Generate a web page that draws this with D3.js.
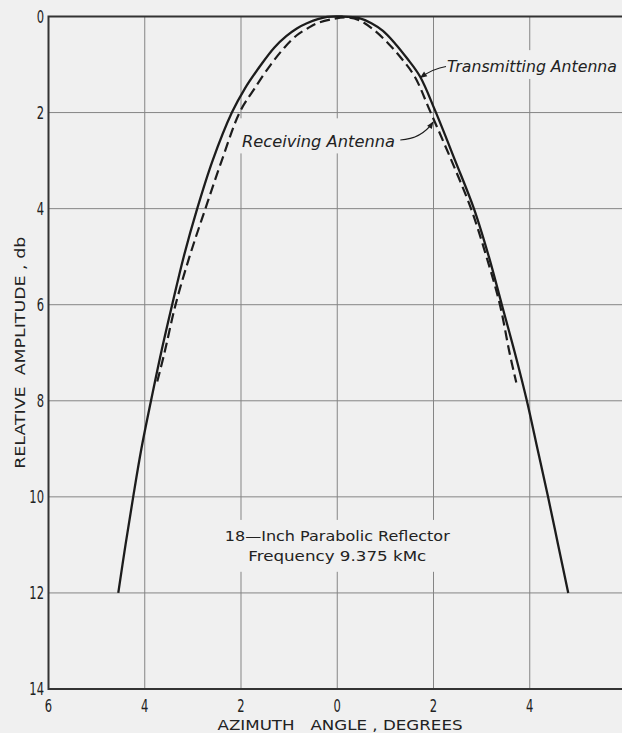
<!DOCTYPE html>
<html><head><meta charset="utf-8">
<script src="https://cdn.jsdelivr.net/npm/d3@7"></script>
<style>html,body{margin:0;padding:0;background:#f0f0f0;} svg{display:block}</style>
</head><body><svg id="c" width="622" height="733"></svg>
<script>
// ---- data ----
const xTickValues = [-6, -4, -2, 0, 2, 4, 6];
const xTickLabels = ["6", "4", "2", "0", "2", "4", "6"];
const yTickValues = [0, 2, 4, 6, 8, 10, 12, 14];
const yTickLabels = ["0", "2", "4", "6", "8", "10", "12", "14"];

// azimuth angle (deg), relative amplitude (db)
const transmittingX = [-4.55, -4.40, -4.24, -4.07, -3.87, -3.66, -3.43, -3.19, -2.91, -2.59, -2.19, -1.92, -1.58, -1.31, -1.06, -0.84, -0.63, -0.21, 0.10, 0.44, 0.71, 0.95, 1.20, 1.45, 1.72, 2.03, 2.45, 2.84, 3.15, 3.42, 3.69, 3.94, 4.16, 4.38, 4.59, 4.80];
const transmittingY = [12.0, 11.0, 10.0, 9.0, 8.0, 7.0, 6.0, 5.0, 4.0, 3.0, 2.0, 1.5, 1.0, 0.65, 0.41, 0.25, 0.14, 0.01, 0.0, 0.03, 0.14, 0.30, 0.56, 0.87, 1.25, 1.95, 3.0, 4.0, 5.0, 6.0, 7.0, 8.0, 9.0, 10.0, 11.0, 12.0];
const receivingX = [-3.74, -3.59, -3.36, -3.07, -2.74, -2.40, -2.03, -1.72, -1.38, -1.10, -0.84, -0.62, -0.42, -0.08, 0.18, 0.44, 0.75, 1.06, 1.34, 1.61, 1.92, 2.37, 2.78, 3.10, 3.38, 3.58, 3.72];
const receivingY = [7.6, 7.0, 6.0, 5.0, 4.0, 3.0, 2.0, 1.5, 1.0, 0.65, 0.39, 0.25, 0.14, 0.05, 0.02, 0.07, 0.27, 0.56, 0.88, 1.25, 1.95, 2.99, 4.0, 5.0, 6.0, 7.0, 7.62];

const noteLines = ["18\u2014Inch Parabolic Reflector", "Frequency 9.375 kMc"];
const xTitle = "AZIMUTH   ANGLE , DEGREES";
const yTitle = "RELATIVE  AMPLITUDE , db";

// ---- setup ----
const svg = d3.select("#c");
const W = 622, H = 733;
const x = d3.scaleLinear().domain([-6, 6]).range([48.5, 626]);
const y = d3.scaleLinear().domain([0, 14]).range([16.5, 689]);
const bg = "#f0f0f0", ink = "#1c1c1c", grid = "#858585";

svg.append("rect").attr("width", W).attr("height", H).attr("fill", bg);

// gridlines
const g = svg.append("g");
g.selectAll("line.v").data(xTickValues.filter(d => d > -6 && d < 6)).enter().append("line")
  .attr("x1", d => x(d)).attr("x2", d => x(d)).attr("y1", y(0)).attr("y2", y(14))
  .attr("stroke", grid).attr("stroke-width", 1);
g.selectAll("line.h").data(yTickValues.filter(d => d > 0 && d < 14)).enter().append("line")
  .attr("x1", x(-6)).attr("x2", x(6)).attr("y1", d => y(d)).attr("y2", d => y(d))
  .attr("stroke", grid).attr("stroke-width", 1);

// label knock-out boxes (in data units)
const boxes = [
  {x0: 2.15, x1: 6.2, y0: 0.7, y1: 1.3},
  {x0: -2.05, x1: 1.3, y0: 2.12, y1: 2.85},
  {x0: -2.45, x1: 2.4, y0: 10.48, y1: 11.56}
];
svg.selectAll("rect.k").data(boxes).enter().append("rect")
  .attr("x", d => x(d.x0)).attr("y", d => y(d.y0))
  .attr("width", d => x(d.x1) - x(d.x0)).attr("height", d => y(d.y1) - y(d.y0))
  .attr("fill", bg);

// frame
svg.append("path")
  .attr("d", `M${x(6)},${y(0)} H${x(-6)} V${y(14)} H${x(6)}`)
  .attr("fill", "none").attr("stroke", "#333").attr("stroke-width", 2);

// curves
const line = d3.line().x(d => x(d[0])).y(d => y(d[1])).curve(d3.curveCatmullRom.alpha(0.5));
const tData = transmittingX.map((v, i) => [v, transmittingY[i]]);
const rData = receivingX.map((v, i) => [v, receivingY[i]]);
svg.append("path").datum(tData).attr("d", line)
  .attr("fill", "none").attr("stroke", ink).attr("stroke-width", 2.3).attr("stroke-linejoin", "round");
svg.append("path").datum(rData).attr("d", line)
  .attr("fill", "none").attr("stroke", ink).attr("stroke-width", 2.2)
  .attr("stroke-dasharray", "10,5");

// tick labels (narrow digits)
const tickFont = "'DejaVu Sans', sans-serif";
svg.selectAll("text.xt").data(xTickValues).enter().append("text")
  .attr("transform", d => `translate(${x(d)},712) scale(0.68,1)`)
  .attr("text-anchor", "middle").attr("font-family", tickFont).attr("font-size", 17)
  .attr("fill", "#222")
  .text((d, i) => xTickLabels[i]);
svg.selectAll("text.yt").data(yTickValues).enter().append("text")
  .attr("transform", d => `translate(44,${y(d) + 6.3}) scale(0.68,1)`)
  .attr("text-anchor", "end").attr("font-family", tickFont).attr("font-size", 17)
  .attr("fill", "#222")
  .text((d, i) => yTickLabels[i]);

// axis titles
svg.append("text").attr("x", 340).attr("y", 730).attr("text-anchor", "middle")
  .attr("font-family", tickFont).attr("font-size", 14.5).attr("fill", "#222")
  .style("white-space", "pre")
  .attr("textLength", 245).attr("lengthAdjust", "spacingAndGlyphs").text(xTitle);
svg.append("text").attr("transform", `translate(25,${y(7.0)}) rotate(-90)`)
  .attr("text-anchor", "middle").attr("font-family", tickFont).attr("font-size", 14).attr("fill", "#222")
  .style("white-space", "pre")
  .attr("textLength", 232).attr("lengthAdjust", "spacingAndGlyphs").text(yTitle);

// note
svg.selectAll("text.note").data(noteLines).enter().append("text")
  .attr("x", x(0)).attr("y", (d, i) => y(10.91 + i * 0.43))
  .attr("text-anchor", "middle").attr("font-family", tickFont).attr("font-size", 14).attr("fill", "#222")
  .attr("textLength", (d, i) => [225, 178][i]).attr("lengthAdjust", "spacingAndGlyphs")
  .text(d => d);

// annotations with leaders
const defs = svg.append("defs");
defs.append("marker").attr("id", "ah").attr("viewBox", "0 0 10 10").attr("refX", 9).attr("refY", 5)
  .attr("markerWidth", 9).attr("markerHeight", 7).attr("markerUnits", "userSpaceOnUse").attr("orient", "auto")
  .append("path").attr("d", "M0,1 L10,5 L0,9 Z").attr("fill", ink);

const annotations = [
  {text: "Transmitting Antenna", tx: 2.28, ty: 1.155, len: 170, from: [2.26, 1.04], ctrl: [2.0, 1.08], to: [1.73, 1.27]},
  {text: "Receiving Antenna", tx: -1.98, ty: 2.71, len: 153, from: [1.31, 2.57], ctrl: [1.75, 2.55], to: [1.99, 2.2]}
];
annotations.forEach(a => {
  svg.append("path")
    .attr("d", `M${x(a.from[0])},${y(a.from[1])} Q${x(a.ctrl[0])},${y(a.ctrl[1])} ${x(a.to[0])},${y(a.to[1])}`)
    .attr("fill", "none").attr("stroke", ink).attr("stroke-width", 1.1).attr("marker-end", "url(#ah)");
  svg.append("text").attr("x", x(a.tx)).attr("y", y(a.ty))
    .attr("font-family", tickFont).attr("font-style", "italic").attr("font-size", 15).attr("fill", "#222")
    .attr("textLength", a.len).attr("lengthAdjust", "spacingAndGlyphs").text(a.text);
});
</script></body></html>
